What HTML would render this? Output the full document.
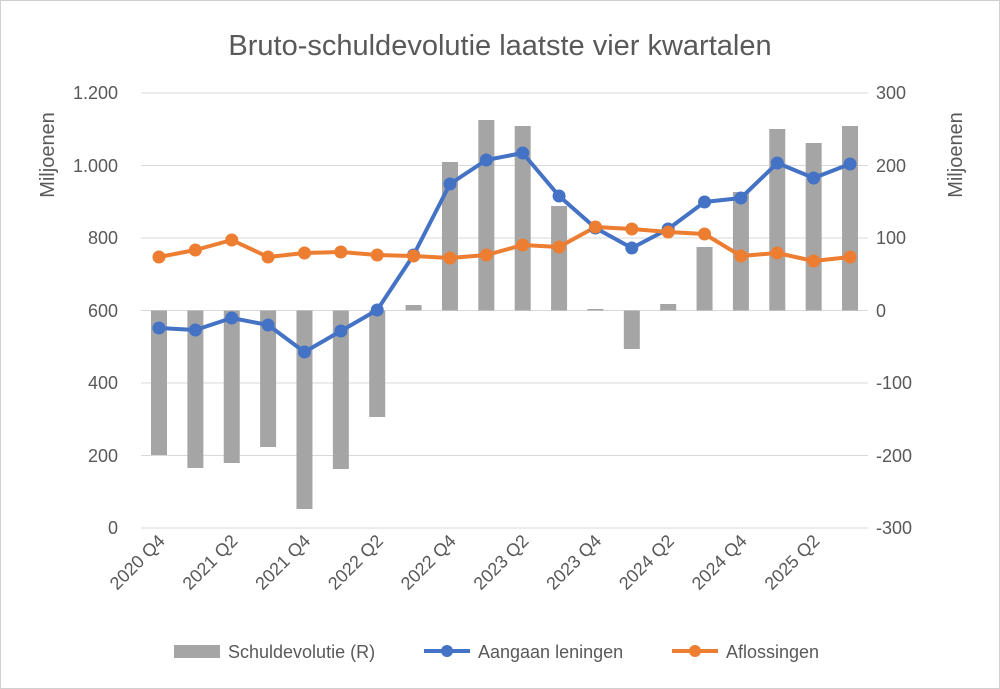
<!DOCTYPE html>
<html><head><meta charset="utf-8"><style>
body{margin:0;background:#fff}
svg{display:block;font-family:"Liberation Sans",sans-serif}
</style></head><body>
<svg width="1000" height="689" viewBox="0 0 1000 689">
<rect x="0.5" y="0.5" width="999" height="688" fill="#fff" stroke="#d0d0d0"/>
<text x="500" y="55" text-anchor="middle" font-size="29" fill="#595959">Bruto-schuldevolutie laatste vier kwartalen</text>
<g stroke="#d9d9d9" stroke-width="1">
<line x1="141" x2="868" y1="93" y2="93"/><line x1="141" x2="868" y1="165.5" y2="165.5"/>
<line x1="141" x2="868" y1="238" y2="238"/><line x1="141" x2="868" y1="310.5" y2="310.5"/>
<line x1="141" x2="868" y1="383" y2="383"/><line x1="141" x2="868" y1="455.5" y2="455.5"/>
<line x1="141" x2="868" y1="528" y2="528"/>
</g>
<g font-size="18" fill="#595959" text-anchor="end">
<text x="118" y="99">1.200</text><text x="118" y="172">1.000</text><text x="118" y="244">800</text>
<text x="118" y="317">600</text><text x="118" y="389">400</text><text x="118" y="462">200</text><text x="118" y="534">0</text>
</g>
<g font-size="18" fill="#595959" text-anchor="start">
<text x="876" y="99">300</text><text x="876" y="172">200</text><text x="876" y="244">100</text>
<text x="876" y="317">0</text><text x="876" y="389">-100</text><text x="876" y="462">-200</text><text x="876" y="534">-300</text>
</g>
<text transform="translate(54,155) rotate(-90)" font-size="20" fill="#595959" text-anchor="middle">Miljoenen</text>
<text transform="translate(962,155) rotate(-90)" font-size="20" fill="#595959" text-anchor="middle">Miljoenen</text>
<g fill="#a5a5a5" id="bars"></g>
<polyline id="bl" fill="none" stroke="#4472c4" stroke-width="4" stroke-linejoin="round"/>
<polyline id="ol" fill="none" stroke="#ed7d31" stroke-width="4" stroke-linejoin="round"/>
<g id="bm" fill="#4472c4"></g><g id="om" fill="#ed7d31"></g>
<g id="xl" font-size="18" fill="#595959" text-anchor="end"></g>
<g font-size="18" fill="#595959">
<rect x="174" y="645" width="46" height="13" fill="#a5a5a5"/>
<text x="228" y="658">Schuldevolutie (R)</text>
<line x1="424" x2="470" y1="651" y2="651" stroke="#4472c4" stroke-width="4"/><circle cx="447" cy="651" r="6" fill="#4472c4"/>
<text x="478" y="658">Aangaan leningen</text>
<line x1="672" x2="718" y1="651" y2="651" stroke="#ed7d31" stroke-width="4"/><circle cx="695" cy="651" r="6" fill="#ed7d31"/>
<text x="726" y="658">Aflossingen</text>
</g>
<script>
var bars=[455,468,463,447,509,469,417,305,162,120,126,206,309,349,304,247,192,129,143,126];
var b=[328,330,318,325,352,331,310,255,184,160,153,196,228,248,229,202,198,163,178,164];
var o=[257,250,240,257,253,252,255,256,258,255,245,247,227,229,232,234,256,253,261,257];
var lab=["2020 Q4","2021 Q2","2021 Q4","2022 Q2","2022 Q4","2023 Q2","2023 Q4","2024 Q2","2024 Q4","2025 Q2"];
var ns="http://www.w3.org/2000/svg";
function X(i){return 159+i*36.37;}
var g=document.getElementById("bars"),bp="",op="";
for(var i=0;i<20;i++){
 var r=document.createElementNS(ns,"rect");var y0=310.5,y1=bars[i];
 r.setAttribute("x",X(i)-8);r.setAttribute("width",16);
 r.setAttribute("y",Math.min(y0,y1));r.setAttribute("height",Math.max(1,Math.abs(y1-y0)));
 g.appendChild(r);
 bp+=X(i)+","+b[i]+" ";op+=X(i)+","+o[i]+" ";
 [["bm",b],["om",o]].forEach(function(p){var c=document.createElementNS(ns,"circle");c.setAttribute("cx",X(i));c.setAttribute("cy",p[1][i]);c.setAttribute("r",6.5);document.getElementById(p[0]).appendChild(c);});
}
document.getElementById("bl").setAttribute("points",bp);
document.getElementById("ol").setAttribute("points",op);
for(var j=0;j<10;j++){var t=document.createElementNS(ns,"text");var x=X(j*2)+7,y=542;
 t.setAttribute("transform","translate("+x+","+y+") rotate(-45)");t.textContent=lab[j];document.getElementById("xl").appendChild(t);}
</script>
</svg>
</body></html>
